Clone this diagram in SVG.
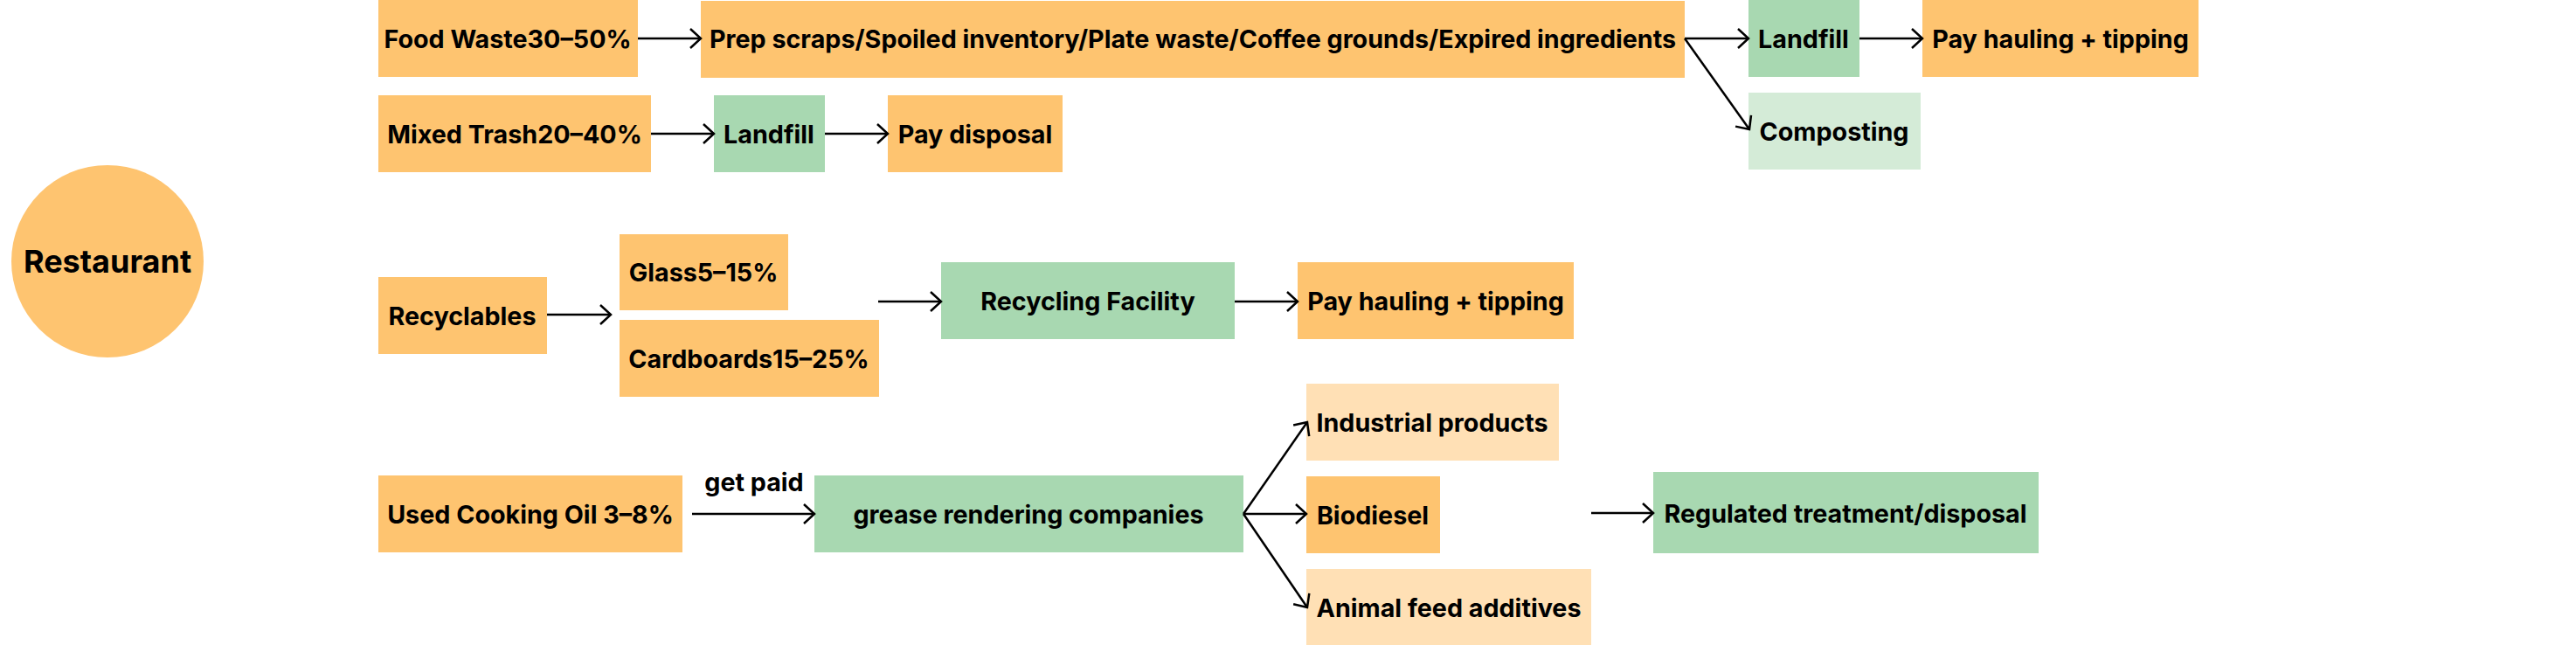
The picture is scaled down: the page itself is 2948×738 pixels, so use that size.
<svg xmlns="http://www.w3.org/2000/svg" width="2948" height="738" viewBox="0 0 2948 738">
<style>
  .o { fill: #FEC470; }
  .g { fill: #A8D8B1; }
  .lg { fill: #D4EBD7; }
  .p { fill: #FFE0B5; }
  text { font-family: Inter, "Liberation Sans", sans-serif; font-weight: 700; font-size: 28.7px; fill: #000; text-anchor: middle; dominant-baseline: central; }
  .c line { stroke: #000; stroke-width: 2.5; marker-end: url(#arr); }
</style>
<defs>
  <marker id="arr" markerUnits="userSpaceOnUse" markerWidth="18" markerHeight="28" refX="14" refY="12" orient="auto">
    <path d="M2,1 L14,12 L2,23" fill="none" stroke="#000" stroke-width="2.5"/>
  </marker>
</defs>
<rect width="2948" height="738" fill="#fff"/>
<g id="restaurant"><circle class="o" cx="123" cy="299" r="110"/><text x="123" y="299" style="font-size:36px">Restaurant</text></g>
<g id="foodwaste"><rect class="o" x="433" y="0" width="297" height="88"/><text x="581" y="44">Food Waste30–50%</text></g>
<g id="prep"><rect class="o" x="802" y="1" width="1126" height="88"/><text x="1365" y="44">Prep scraps/Spoiled inventory/Plate waste/Coffee grounds/Expired ingredients</text></g>
<g id="landfill1"><rect class="g" x="2001" y="0" width="127" height="88"/><text x="2064" y="44">Landfill</text></g>
<g id="pay1"><rect class="o" x="2200" y="0" width="316" height="88"/><text x="2358" y="44">Pay hauling + tipping</text></g>
<g id="composting"><rect class="lg" x="2001" y="106" width="197" height="88"/><text x="2099" y="150">Composting</text></g>
<g id="mixed"><rect class="o" x="433" y="109" width="312" height="88"/><text x="589" y="153">Mixed Trash20–40%</text></g>
<g id="landfill2"><rect class="g" x="817" y="109" width="127" height="88"/><text x="880" y="153">Landfill</text></g>
<g id="paydisposal"><rect class="o" x="1016" y="109" width="200" height="88"/><text x="1116" y="153">Pay disposal</text></g>
<g id="recyclables"><rect class="o" x="433" y="317" width="193" height="88"/><text x="529" y="361">Recyclables</text></g>
<g id="glass"><rect class="o" x="709" y="268" width="193" height="87"/><text x="805" y="311">Glass5–15%</text></g>
<g id="cardboards"><rect class="o" x="709" y="366" width="297" height="88"/><text x="857" y="410">Cardboards15–25%</text></g>
<g id="recyclingfacility"><rect class="g" x="1077" y="300" width="336" height="88"/><text x="1245" y="344">Recycling Facility</text></g>
<g id="pay2"><rect class="o" x="1485" y="300" width="316" height="88"/><text x="1643" y="344">Pay hauling + tipping</text></g>
<g id="oil"><rect class="o" x="433" y="544" width="348" height="88"/><text x="607" y="588">Used Cooking Oil 3–8%</text></g>
<g id="grease"><rect class="g" x="932" y="544" width="491" height="88"/><text x="1177" y="588">grease rendering companies</text></g>
<g id="industrial"><rect class="p" x="1495" y="439" width="289" height="88"/><text x="1639" y="483">Industrial products</text></g>
<g id="biodiesel"><rect class="o" x="1495" y="545" width="153" height="88"/><text x="1571" y="589">Biodiesel</text></g>
<g id="animal"><rect class="p" x="1495" y="651" width="326" height="87"/><text x="1658" y="695">Animal feed additives</text></g>
<g id="regulated"><rect class="g" x="1892" y="540" width="441" height="93"/><text x="2112" y="587">Regulated treatment/disposal</text></g>
<g id="connectors" class="c">
  <line x1="730" y1="44" x2="802" y2="44"/>
  <line x1="1928" y1="44" x2="2001" y2="44"/>
  <line x1="1928" y1="44" x2="2002" y2="148"/>
  <line x1="2128" y1="44" x2="2200" y2="44"/>
  <line x1="745" y1="153" x2="817" y2="153"/>
  <line x1="944" y1="153" x2="1016" y2="153"/>
  <line x1="626" y1="360" x2="699" y2="360"/>
  <line x1="1005" y1="345" x2="1077" y2="345"/>
  <line x1="1413" y1="345" x2="1485" y2="345"/>
  <line x1="792" y1="588" x2="932" y2="588"/>
  <line x1="1423" y1="588" x2="1496" y2="483"/>
  <line x1="1423" y1="588" x2="1495" y2="588"/>
  <line x1="1423" y1="588" x2="1496" y2="695"/>
  <line x1="1821" y1="587" x2="1892" y2="587"/>
  <text x="863" y="551">get paid</text>
</g>
</svg>
